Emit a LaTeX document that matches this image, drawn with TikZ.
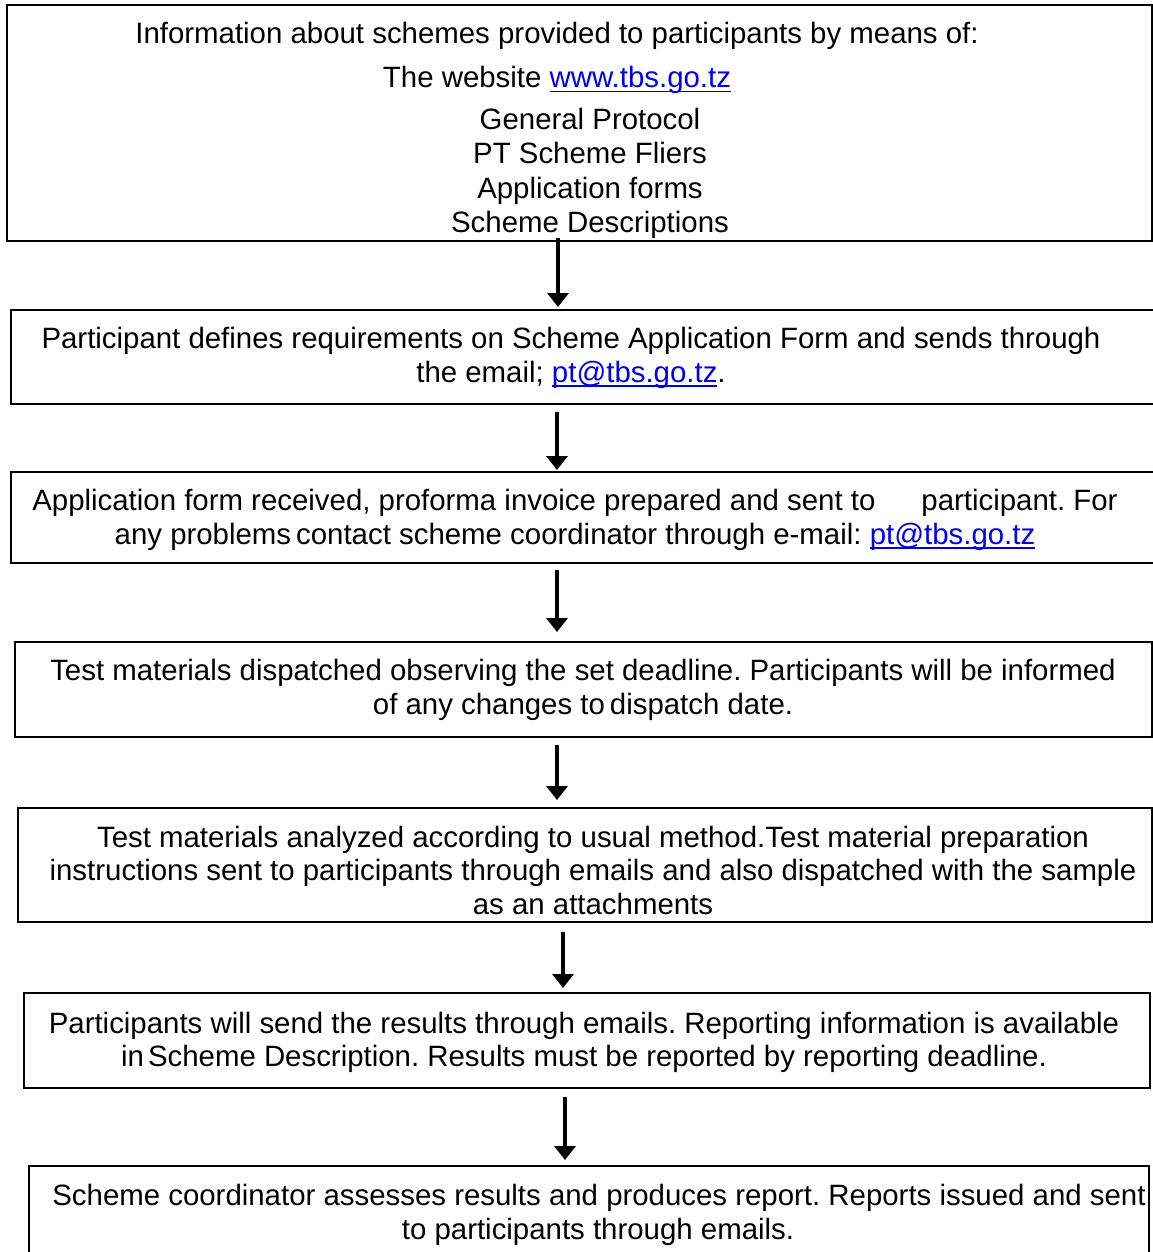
\documentclass[tikz,border=0pt]{standalone}
\usepackage{fontspec}
\setmainfont{Liberation Sans}
\usetikzlibrary{arrows.meta}
\definecolor{linkblue}{RGB}{0,0,238}
\newcommand\lnk[1]{{\color{linkblue}\setbox0\hbox{#1}\rlap{\rule[-4.5pt]{\wd0}{1.8pt}}\box0}}
\frenchspacing
\tikzset{
  box/.style={draw=black, line width=1.6pt, rectangle, inner sep=0pt, outer sep=0pt, fill=none},
  txt/.style={anchor=base, inner sep=0pt, font=\fontsize{29.4}{34}\selectfont},
  arr/.style={line width=4.5pt, -{Triangle[width=21pt,length=14pt]}},
}
\begin{document}
\begin{tikzpicture}[x=1pt,y=-1pt]
\useasboundingbox (0,0) rectangle (1153,1252);
\clip (0,0) rectangle (1153,1252);
\fill[white] (0,0) rectangle (1153,1252);
% boxes
\node[box, minimum width=1145pt, minimum height=236pt] (b1) at (579.5,123) {};
\node[box, minimum width=1154pt, minimum height=94pt] (b2) at (588,357) {};
\node[box, minimum width=1154pt, minimum height=91pt] (b3) at (588,517.5) {};
\node[box, minimum width=1137pt, minimum height=95pt] (b4) at (583.5,689.5) {};
\node[box, minimum width=1134pt, minimum height=114pt] (b5) at (585,865) {};
\node[box, minimum width=1126pt, minimum height=95pt] (b6) at (587,1040.5) {};
\node[box, minimum width=1120pt, minimum height=104pt] (b7) at (589,1218) {};
% box 1 text
\node[txt] (t1a) at (557,44) {Information about schemes provided to participants by means of:};
\node[txt] (t1b) at (557,88) {The website \lnk{www.tbs.go.tz}};
\node[txt] (t1c) at (590,130) {General Protocol};
\node[txt] (t1d) at (590,164) {PT Scheme Fliers};
\node[txt] (t1e) at (590,198) {Application forms};
\node[txt] (t1f) at (590,232) {Scheme Descriptions};
% box 2
\node[txt] (t2a) at (571,348) {Participant defines requirements on Scheme Application Form and sends through};
\node[txt] (t2b) at (571,382) {the email; \lnk{pt@tbs.go.tz}.};
% box 3
\node[txt] (t3a) at (575,510) {Application form received, proforma invoice prepared and sent to\hspace{46pt}participant. For};
\node[txt] (t3b) at (575,544) {any problems\hspace{5pt}contact scheme coordinator through e-mail: \lnk{pt@tbs.go.tz}};
% box 4
\node[txt] (t4a) at (583,680) {Test materials dispatched observing the set deadline. Participants will be informed};
\node[txt] (t4b) at (583,714) {of any changes to\hspace{5pt}dispatch date.};
% box 5
\node[txt] (t5a) at (593,847) {Test materials analyzed according to usual method.Test material preparation};
\node[txt] (t5b) at (593,880) {instructions sent to participants through emails and also dispatched with the sample};
\node[txt] (t5c) at (593,914) {as an attachments};
% box 6
\node[txt] (t6a) at (584,1033) {Participants will send the results through emails. Reporting information is available};
\node[txt] (t6b) at (584,1066) {in\hspace{4pt}Scheme Description. Results must be reported by reporting deadline.};
% box 7
\node[txt] (t7a) at (599,1205) {Scheme coordinator assesses results and produces report. Reports issued and sent};
\node[txt] (t7b) at (598,1239) {to participants through emails.};
% arrows
\coordinate (c1) at (558,0);
\coordinate (c2) at (557,0);
\coordinate (c3) at (557,0);
\coordinate (c4) at (557,0);
\coordinate (c5) at (563,0);
\coordinate (c6) at (565,0);
\draw[arr] ([yshift=3pt]b1.south -| c1) -- ([yshift=3pt]b2.north -| c1);
\draw[arr] ([yshift=-8pt]b2.south -| c2) -- ([yshift=2pt]b3.north -| c2);
\draw[arr] ([yshift=-7pt]b3.south -| c3) -- ([yshift=10pt]b4.north -| c3);
\draw[arr] ([yshift=-8pt]b4.south -| c4) -- ([yshift=8pt]b5.north -| c4);
\draw[arr] ([yshift=-10pt]b5.south -| c5) -- ([yshift=5pt]b6.north -| c5);
\draw[arr] ([yshift=-9pt]b6.south -| c6) -- ([yshift=6pt]b7.north -| c6);
\end{tikzpicture}
\end{document}
